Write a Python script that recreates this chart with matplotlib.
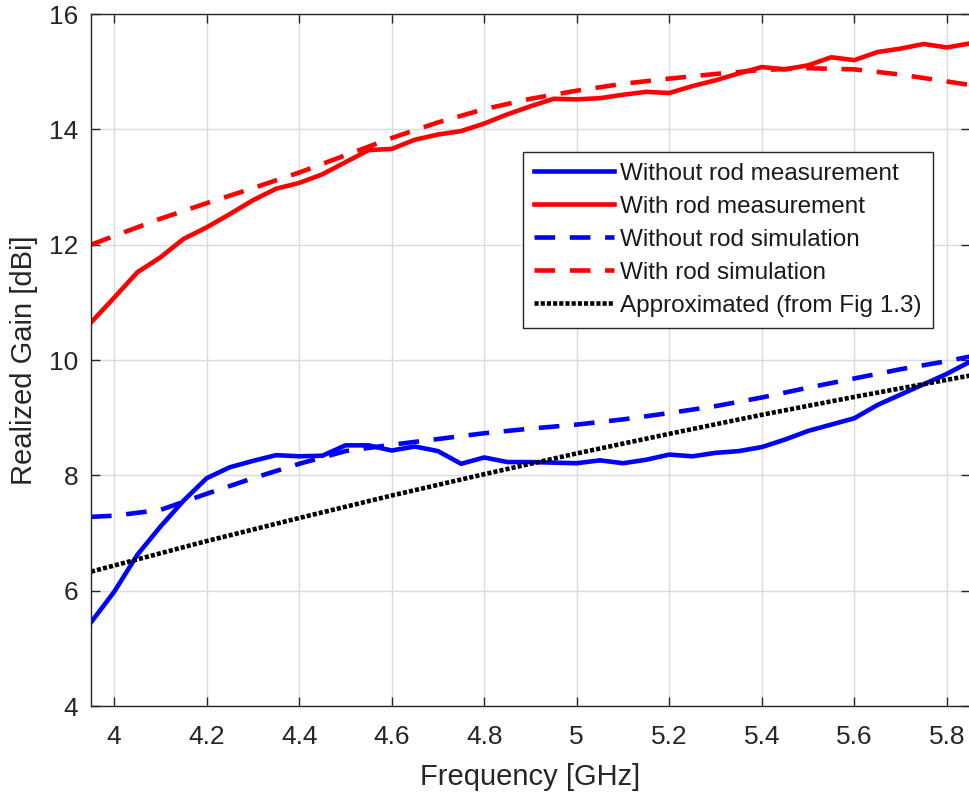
import matplotlib
matplotlib.use("Agg")
import matplotlib.pyplot as plt

# ---- data ----
freq_meas = [3.95, 4.00, 4.05, 4.10, 4.15, 4.20, 4.25, 4.30, 4.35, 4.40, 4.45, 4.50, 4.55,
             4.60, 4.65, 4.70, 4.75, 4.80, 4.85, 4.90, 4.95, 5.00, 5.05, 5.10, 5.15, 5.20,
             5.25, 5.30, 5.35, 5.40, 5.45, 5.50, 5.55, 5.60, 5.65, 5.70, 5.75, 5.80, 5.85]
without_rod_meas = [5.45, 5.98, 6.62, 7.11, 7.56, 7.95, 8.14, 8.25, 8.35, 8.33, 8.34, 8.52, 8.52,
                    8.43, 8.50, 8.42, 8.20, 8.31, 8.23, 8.23, 8.22, 8.21, 8.26, 8.21, 8.27, 8.36,
                    8.33, 8.39, 8.42, 8.49, 8.62, 8.77, 8.88, 8.99, 9.22, 9.40, 9.58, 9.76, 9.97]
with_rod_meas = [10.65, 11.08, 11.52, 11.78, 12.10, 12.30, 12.53, 12.77, 12.97, 13.07, 13.22, 13.43, 13.64,
                 13.66, 13.82, 13.91, 13.97, 14.10, 14.26, 14.40, 14.53, 14.52, 14.54, 14.60, 14.65, 14.63,
                 14.75, 14.85, 14.97, 15.08, 15.04, 15.11, 15.25, 15.20, 15.34, 15.40, 15.48, 15.42, 15.49]

freq_sim = [3.95, 4.0, 4.1, 4.2, 4.3, 4.4, 4.5, 4.6, 4.7, 4.8, 4.9, 5.0, 5.1, 5.2, 5.3,
            5.4, 5.5, 5.6, 5.7, 5.8, 5.85]
without_rod_sim = [7.28, 7.30, 7.40, 7.68, 7.95, 8.20, 8.42, 8.53, 8.63, 8.73, 8.81, 8.88, 8.97, 9.08, 9.20,
                   9.35, 9.52, 9.68, 9.84, 9.98, 10.06]
with_rod_sim = [12.00, 12.15, 12.45, 12.72, 12.98, 13.25, 13.55, 13.85, 14.12, 14.35, 14.53, 14.67, 14.79,
                14.88, 14.96, 15.03, 15.06, 15.04, 14.95, 14.83, 14.77]

freq_approx = [3.95, 4.2, 4.4, 4.6, 4.8, 5.0, 5.2, 5.4, 5.6, 5.85]
approx_gain = [6.33, 6.86, 7.26, 7.65, 8.02, 8.38, 8.72, 9.05, 9.36, 9.73]

labels = ["Without rod measurement", "With rod measurement", "Without rod simulation",
          "With rod simulation", "Approximated (from Fig 1.3)"]
xticks = [4, 4.2, 4.4, 4.6, 4.8, 5, 5.2, 5.4, 5.6, 5.8]
xticklabels = ["4", "4.2", "4.4", "4.6", "4.8", "5", "5.2", "5.4", "5.6", "5.8"]
yticks = [4, 6, 8, 10, 12, 14, 16]

# ---- style ----
plt.rcParams['font.family'] = ['Liberation Sans', 'DejaVu Sans']
axcol = (0.15, 0.15, 0.15)

fig = plt.figure(figsize=(9.70, 7.94), dpi=100)
ax = fig.add_axes([91/970, 1-706/794, 1-91/970, (706-14)/794])

lw = 3.3
ax.plot(freq_meas, without_rod_meas, color=(0, 0, 1), lw=lw, label=labels[0])
ax.plot(freq_meas, with_rod_meas, color=(1, 0, 0), lw=lw, label=labels[1])
ax.plot(freq_sim, without_rod_sim, color=(0, 0, 1), lw=lw, dashes=(4.5, 3.2), label=labels[2])
ax.plot(freq_sim, with_rod_sim, color=(1, 0, 0), lw=lw, dashes=(4.5, 3.2), label=labels[3])
ax.plot(freq_approx, approx_gain, color='black', lw=lw, dashes=(0.9, 0.45), label=labels[4])

ax.set_xlim(3.95, 5.85)
ax.set_ylim(4, 16)
ax.set_xticks(xticks)
ax.set_xticklabels(xticklabels)
ax.set_yticks(yticks)

ax.grid(True, color=(0.86, 0.86, 0.86), lw=1.0)
ax.set_axisbelow(True)
ax.tick_params(direction='in', length=6.5, width=1.0, colors=axcol, labelsize=19,
               top=True, right=True, pad=14)
ax.tick_params(axis='y', pad=9)
for sp in ax.spines.values():
    sp.set_color(axcol)
    sp.set_linewidth(1.0)

ax.set_xlabel("Frequency [GHz]", fontsize=21, color=axcol, labelpad=10)
ax.set_ylabel("Realized Gain [dBi]", fontsize=21, color=axcol, labelpad=8)

leg = ax.legend(loc='upper left', bbox_to_anchor=(0.4915, 0.8006), borderaxespad=0,
                fontsize=17.5, handlelength=3.3, handletextpad=0.25, labelspacing=0.45,
                borderpad=0.45, fancybox=False, framealpha=1, edgecolor=axcol)
leg.get_frame().set_linewidth(1.0)
for t in leg.get_texts():
    t.set_color((0.1, 0.1, 0.1))

fig.savefig("out.png", dpi=100)
